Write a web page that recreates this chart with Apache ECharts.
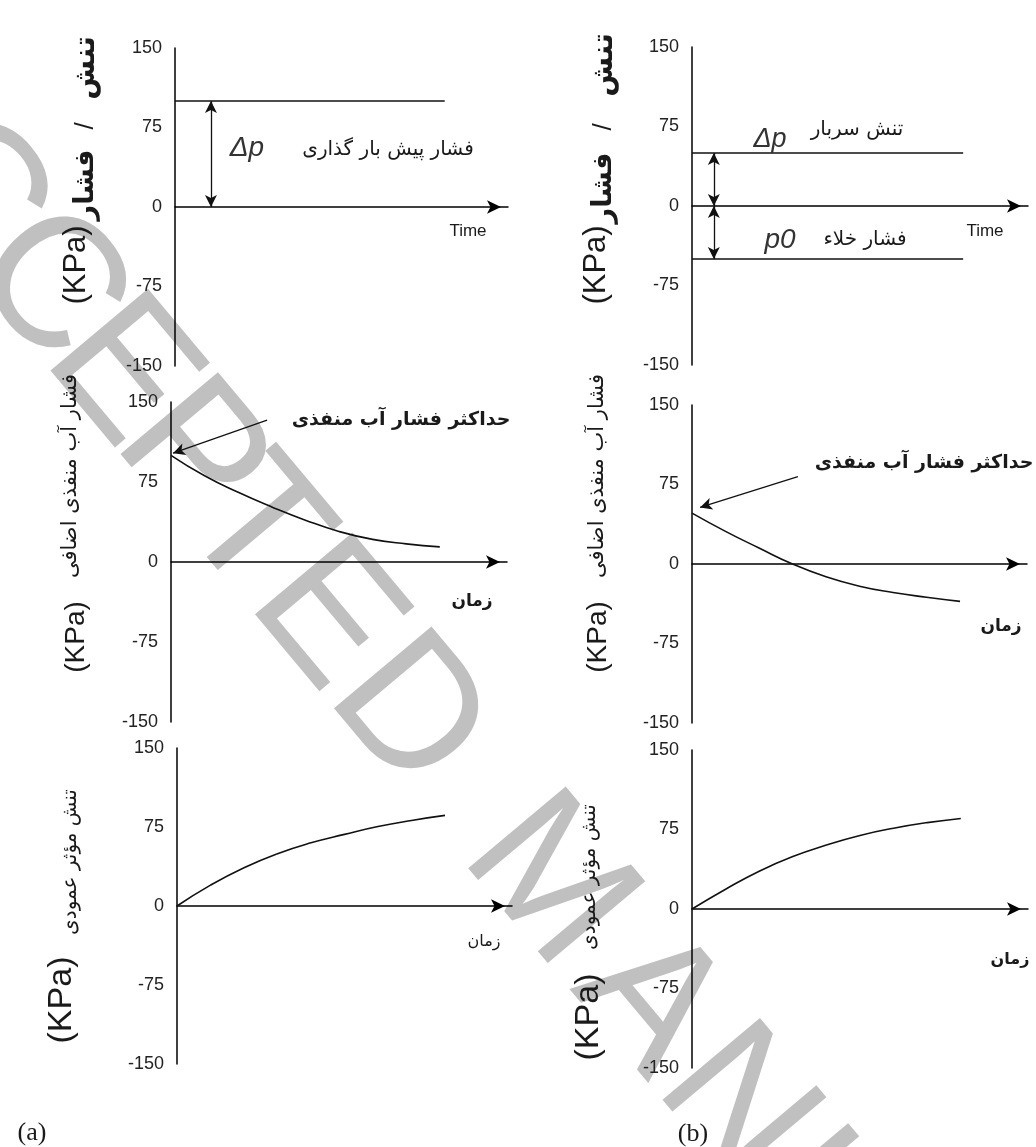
<!DOCTYPE html>
<html><head><meta charset="utf-8">
<script src="https://cdn.jsdelivr.net/npm/echarts@6/dist/echarts.min.js"></script>
<style>html,body{margin:0;padding:0;background:#fff}#c{width:1036px;height:1147px}</style>
</head><body><div id="c"></div>
<script>
// ---------------- data ----------------
const time = [0, 10, 20, 30, 40, 50, 60, 70, 80];
const loadEndA = 81, loadEndB = 80.7;
const surchargeA = 100;           // Δp (a)
const surchargeB = 50;            // Δp (b)
const vacuumB = -50;              // p0 (b)
const poreA = [100, 80.8, 65.3, 51.6, 39.2, 28.6, 21.2, 17, 14.2];
const poreB = [48, 30.8, 15.1, 0, -12, -20.9, -26.9, -31.4, -35.3];
const effA = [0, 19.8, 36.4, 49.7, 60, 68, 75.4, 81.2, 86];
const effB = [0, 18.7, 35.7, 49.5, 60.3, 69.4, 76.2, 81.5, 85.4];
const arrowTA = 10.8, arrowTB = 6.5;
const annotA = [[28.6, 133], [0.6, 102]];
const annotB = [[31.6, 82.5], [2.4, 53.4]];
const yMin = -150, yMax = 150, yStep = 75;
const watermarkText = 'ACCEPTED MANUSCRIPT';

// ---------------- layout ----------------
const grids = [
  {left: 175, top: 48, width: 333, height: 318},
  {left: 692, top: 47, width: 336, height: 318},
  {left: 171, top: 402, width: 336, height: 320},
  {left: 692, top: 405, width: 335, height: 318},
  {left: 177, top: 748, width: 335, height: 316},
  {left: 692, top: 750, width: 336, height: 318}
];
const AR = 'Liberation Sans, Arial, sans-serif';
const FA = '"DejaVu Sans", sans-serif';

const xAxes = grids.map((g, i) => ({
  gridIndex: i, type: 'value', min: 0, max: 100,
  axisLabel: {show: false}, axisTick: {show: false}, splitLine: {show: false},
  axisLine: {onZero: true, symbol: ['none', 'arrow'], symbolSize: [10, 14], symbolOffset: [0, -7],
    lineStyle: {color: '#000', width: 1.5}}
}));
const yAxes = grids.map((g, i) => ({
  gridIndex: i, type: 'value', min: yMin, max: yMax, interval: yStep,
  axisTick: {show: false}, splitLine: {show: false},
  axisLine: {show: true, lineStyle: {color: '#000', width: 1.5}},
  axisLabel: {fontSize: 18, fontFamily: AR, color: '#222', margin: 13}
}));

const blk = {color: '#111', width: 1.6};
const pairs = (xs, ys) => xs.map((x, i) => [x, ys[i]]);
const arrowML = (segs, sym) => ({
  silent: true, symbol: sym, symbolSize: [9, 12], label: {show: false},
  lineStyle: {color: '#111', width: 1.3, type: 'solid'},
  data: segs.map(s => [{coord: s[0]}, {coord: s[1]}])
});

const series = [
  {type: 'line', xAxisIndex: 0, yAxisIndex: 0, showSymbol: false, lineStyle: blk,
   data: [[0, surchargeA], [loadEndA, surchargeA]],
   markLine: arrowML([[[arrowTA, 0], [arrowTA, surchargeA]]], ['arrow', 'arrow'])},
  {type: 'line', xAxisIndex: 1, yAxisIndex: 1, showSymbol: false, lineStyle: blk,
   data: [[0, surchargeB], [loadEndB, surchargeB]],
   markLine: arrowML([[[arrowTB, 0], [arrowTB, surchargeB]], [[arrowTB, 0], [arrowTB, vacuumB]]], ['arrow', 'arrow'])},
  {type: 'line', xAxisIndex: 1, yAxisIndex: 1, showSymbol: false, lineStyle: blk,
   data: [[0, vacuumB], [loadEndB, vacuumB]]},
  {type: 'line', xAxisIndex: 2, yAxisIndex: 2, showSymbol: false, smooth: true, lineStyle: blk,
   data: pairs(time, poreA), markLine: arrowML([annotA], ['none', 'arrow'])},
  {type: 'line', xAxisIndex: 3, yAxisIndex: 3, showSymbol: false, smooth: true, lineStyle: blk,
   data: pairs(time, poreB), markLine: arrowML([annotB], ['none', 'arrow'])},
  {type: 'line', xAxisIndex: 4, yAxisIndex: 4, showSymbol: false, smooth: true, lineStyle: blk,
   data: pairs(time, effA)},
  {type: 'line', xAxisIndex: 5, yAxisIndex: 5, showSymbol: false, smooth: true, lineStyle: blk,
   data: pairs(time, effB)}
];

function T(text, x, y, size, fam, o) {
  o = o || {};
  return {type: 'text', x: x, y: y, rotation: o.rot || 0, silent: true, z: 50,
    style: {text: text, fontSize: size, fontFamily: fam, fontStyle: o.italic ? 'italic' : 'normal',
      fontWeight: o.bold ? 'bold' : 'normal', fill: o.color || '#1a1a1a',
      align: 'center', verticalAlign: 'middle', textAlign: 'center', textVerticalAlign: 'middle'}};
}
const V = Math.PI / 2;

// watermark: letters laid along a diagonal baseline (offsets in px from the "M")
const wmOffsets = [-1013, -900, -778, -665, -556, -460, -347, -219, null, 0, 157, 292, 430, 560, 690, 820, 900, 980, 1090];
const wmLetters = watermarkText.split('').map((ch, i) => ch === ' ' ? null : {
  type: 'text', x: wmOffsets[i], y: 0, silent: true, z: -10,
  style: {text: ch, fontSize: 185, fontFamily: AR, fill: '#c0c0c0',
    align: 'center', verticalAlign: 'middle', textAlign: 'center', textVerticalAlign: 'middle'}
}).filter(Boolean);

const graphics = [
  {type: 'group', x: 547, y: 883, rotation: -50 * Math.PI / 180, silent: true, z: -10, children: wmLetters},
  // y titles
  T('(KPa)', 76, 265, 31, AR, {rot: V}),
  T('فشار', 86, 185, 27, FA, {rot: V, bold: true}),
  T('/', 86, 126, 26, AR, {rot: V}),
  T('تنش', 86, 68, 29, FA, {rot: V, bold: true}),
  T('(KPa)', 596, 265, 31, AR, {rot: V}),
  T('فشار', 604, 188, 27, FA, {rot: V, bold: true}),
  T('/', 604, 127, 26, AR, {rot: V}),
  T('تنش', 604, 65, 29, FA, {rot: V, bold: true}),
  T('(KPa)', 76, 637, 28, AR, {rot: V}),
  T('فشار آب منفذی اضافی', 71, 476, 21, FA, {rot: V}),
  T('(KPa)', 598, 637, 28, AR, {rot: V}),
  T('فشار آب منفذی اضافی', 598, 476, 21, FA, {rot: V}),
  T('(KPa)', 62, 1000, 34, AR, {rot: V}),
  T('تنش مؤثر عمودی', 71, 862, 20, FA, {rot: V}),
  T('(KPa)', 589, 1017, 34, AR, {rot: V}),
  T('تنش مؤثر عمودی', 590, 877, 20, FA, {rot: V}),
  // panel labels
  T('Δp', 247, 148, 28, AR, {italic: true, color: '#333'}),
  T('فشار پیش بار گذاری', 388, 150, 20, FA),
  T('Time', 468, 231, 17, AR),
  T('Δp', 770, 139, 27, AR, {italic: true, color: '#333'}),
  T('تنش سربار', 857, 130, 20, FA),
  T('p0', 780, 240, 28, AR, {italic: true, color: '#333'}),
  T('فشار خلاء', 865, 240, 20, FA),
  T('Time', 985, 231, 17, AR),
  T('حداکثر فشار آب منفذی', 401, 420, 19, FA, {bold: true}),
  T('زمان', 472, 602, 17, FA, {bold: true}),
  T('حداکثر فشار آب منفذی', 924, 463, 19, FA, {bold: true}),
  T('زمان', 1001, 627, 17, FA, {bold: true}),
  T('زمان', 484, 942, 16, FA),
  T('زمان', 1010, 960, 16, FA, {bold: true}),
  T('(a)', 32, 1133, 26, 'Liberation Serif, Times New Roman, serif'),
  T('(b)', 693, 1134, 26, 'Liberation Serif, Times New Roman, serif')
];

const chart = echarts.init(document.getElementById('c'), null, {renderer: 'canvas', width: 1036, height: 1147});
chart.setOption({
  backgroundColor: '#fff',
  animation: false,
  grid: grids,
  xAxis: xAxes,
  yAxis: yAxes,
  series: series,
  graphic: graphics
});
</script></body></html>
